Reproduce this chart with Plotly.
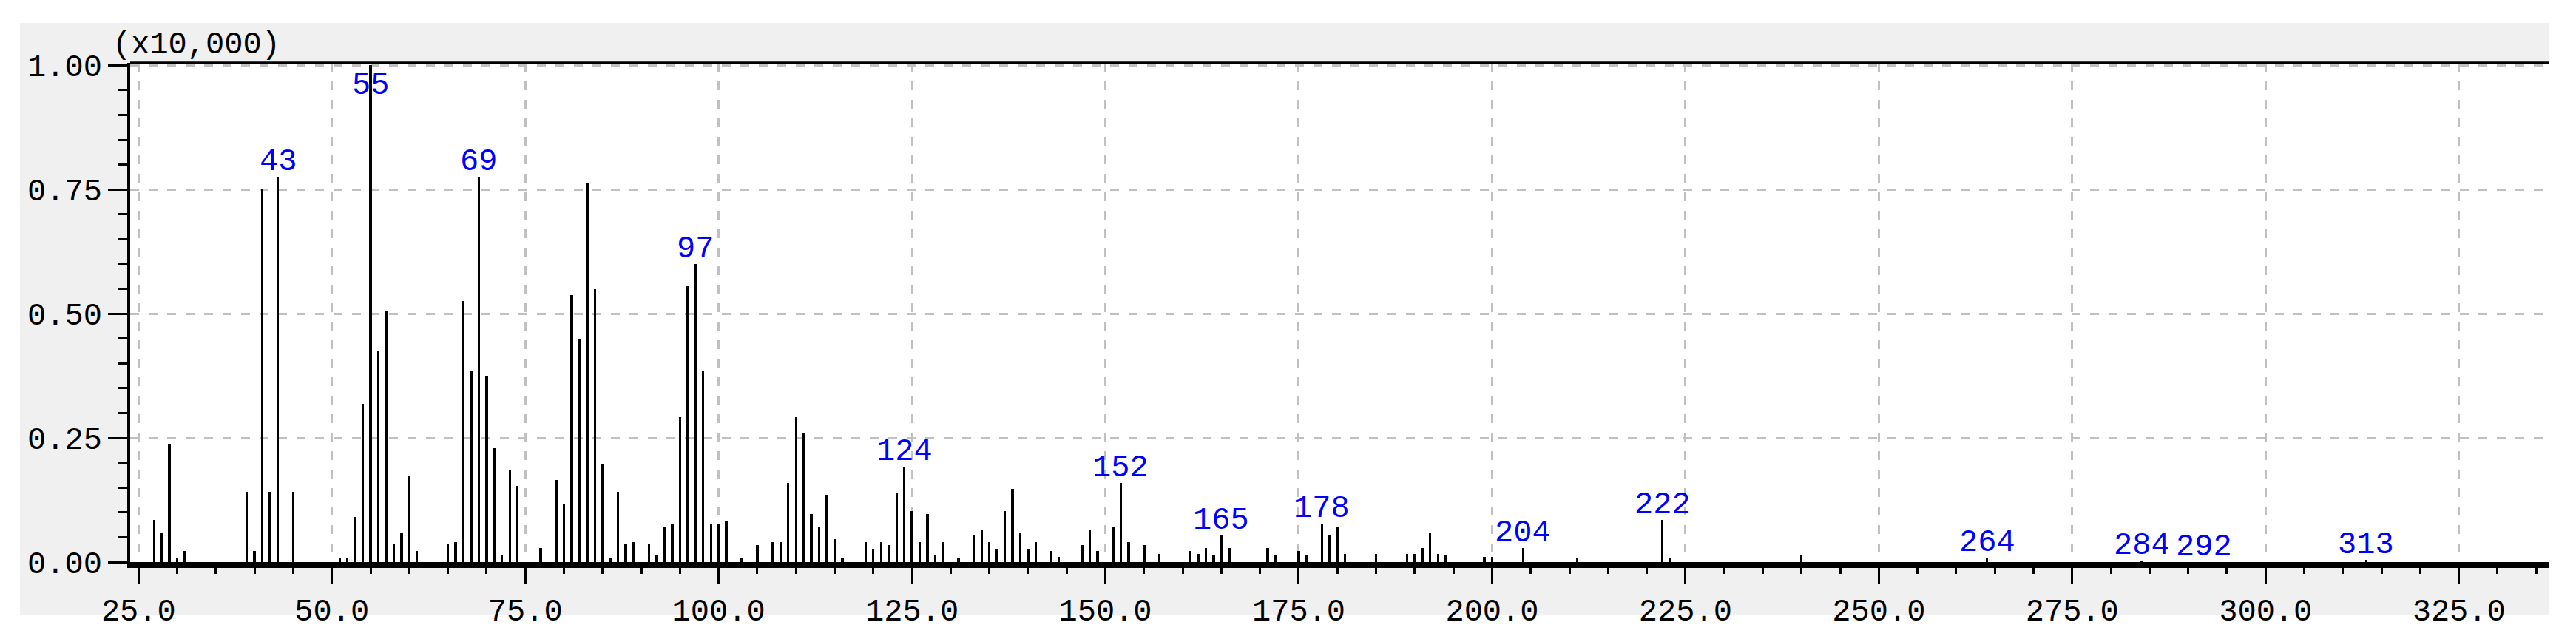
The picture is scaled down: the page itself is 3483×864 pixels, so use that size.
import plotly.graph_objects as go

# m/z values and relative intensities (x10,000)
mz = [27, 28, 29, 30, 31, 39, 40, 41, 42, 43, 45, 51, 52, 53, 54, 55, 56, 57, 58, 59,
      60, 61, 65, 66, 67, 68, 69, 70, 71, 72, 73, 74, 77, 79, 80, 81, 82, 83, 84, 85,
      86, 87, 88, 89, 91, 92, 93, 94, 95, 96, 97, 98, 99, 100, 101, 103, 105, 107, 108, 109,
      110, 111, 112, 113, 114, 115, 116, 119, 120, 121, 122, 123, 124, 125, 126, 127, 128, 129, 131, 133,
      134, 135, 136, 137, 138, 139, 140, 141, 143, 144, 147, 148, 149, 151, 152, 153, 155, 157, 161, 162,
      163, 164, 165, 166, 171, 172, 175, 176, 178, 179, 180, 181, 185, 189, 190, 191, 192, 193, 194, 199,
      200, 204, 211, 222, 223, 240, 264, 284, 292, 313]
intensity = [0.085, 0.059, 0.236, 0.009, 0.022, 0.141, 0.022, 0.750, 0.141, 0.776, 0.141, 0.009, 0.009, 0.091, 0.318, 1.000, 0.424, 0.506, 0.035, 0.059,
             0.173, 0.022, 0.035, 0.040, 0.525, 0.386, 0.776, 0.374, 0.230, 0.015, 0.186, 0.154, 0.028, 0.166, 0.117, 0.538, 0.449, 0.763, 0.550, 0.197,
             0.009, 0.141, 0.035, 0.040, 0.035, 0.015, 0.072, 0.078, 0.292, 0.556, 0.600, 0.386, 0.078, 0.078, 0.084, 0.009, 0.034, 0.040, 0.040, 0.159,
             0.292, 0.260, 0.097, 0.072, 0.135, 0.046, 0.009, 0.040, 0.027, 0.040, 0.034, 0.140, 0.192, 0.103, 0.040, 0.097, 0.015, 0.040, 0.009, 0.053,
             0.065, 0.040, 0.027, 0.103, 0.147, 0.059, 0.027, 0.040, 0.022, 0.011, 0.034, 0.065, 0.022, 0.072, 0.160, 0.040, 0.034, 0.017, 0.022, 0.017,
             0.028, 0.013, 0.053, 0.028, 0.028, 0.013, 0.022, 0.013, 0.078, 0.053, 0.072, 0.017, 0.017, 0.017, 0.017, 0.028, 0.059, 0.017, 0.013, 0.011,
             0.011, 0.028, 0.009, 0.085, 0.009, 0.015, 0.009, 0.003, 0.000, 0.004]

labeled_peaks = [43, 55, 69, 97, 124, 152, 165, 178, 204, 222, 264, 284, 292, 313]

x_ticks = [25, 50, 75, 100, 125, 150, 175, 200, 225, 250, 275, 300, 325]
y_ticks = [0.0, 0.25, 0.5, 0.75, 1.0]
scale_label = "(x10,000)"

FONT = "Liberation Mono"
FS = 42
W, H = 3483, 864
L, R, T, B = 176, 37, 85, 104
PW, PH = W - L - R, H - T - B


def px_x(p):
    return (p - L) / PW


def px_y(p):
    return (H - B - p) / PH


fig = go.Figure()
fig.add_trace(go.Bar(x=mz, y=intensity, width=0.32,
                     marker=dict(color="black", line=dict(width=0))))

lookup = dict(zip(mz, intensity))
for m in labeled_peaks:
    v = lookup[m]
    if v >= 0.95:
        fig.add_annotation(x=m, y=v, text=str(m), showarrow=False, yanchor="top",
                           yshift=-2, font=dict(family=FONT, size=FS, color="#0000ff"))
    else:
        fig.add_annotation(x=m, y=v, text=str(m), showarrow=False, yanchor="bottom",
                           yshift=-6, font=dict(family=FONT, size=FS, color="#0000ff"))

fig.add_annotation(xref="paper", yref="paper", x=px_x(150), y=px_y(61),
                   xanchor="left", yanchor="middle", text=scale_label, showarrow=False,
                   font=dict(family=FONT, size=FS, color="black"))

# grey panel and white plot area
fig.add_shape(type="rect", xref="paper", yref="paper", layer="below",
              x0=px_x(27), x1=px_x(3446), y0=px_y(832), y1=px_y(31),
              fillcolor="#f0f0f0", line=dict(width=0))
fig.add_shape(type="rect", xref="paper", yref="paper", layer="below",
              x0=0, x1=1, y0=0, y1=1, fillcolor="white", line=dict(width=0))
# top frame line
fig.add_shape(type="line", xref="paper", yref="paper", x0=0, x1=1, y0=1, y1=1,
              line=dict(color="black", width=3.5))

fig.update_layout(
    width=W, height=H, autosize=False,
    margin=dict(l=L, r=R, t=T, b=B, pad=0),
    paper_bgcolor="white", plot_bgcolor="white",
    showlegend=False, bargap=0,
    font=dict(family=FONT, size=FS, color="black"),
)
fig.update_xaxes(
    range=[23.92, 336.6], tickmode="array", tickvals=x_ticks,
    ticktext=[f"{v:.1f}" for v in x_ticks],
    showline=True, linecolor="black", linewidth=8,
    ticks="outside", ticklen=21, tickwidth=3, tickcolor="black",
    showgrid=True, gridcolor="#c0c0c0", gridwidth=3, griddash="12px,13px",
    zeroline=False,
    minor=dict(dtick=5, tick0=0, ticks="outside", ticklen=8, tickwidth=3, tickcolor="black", showgrid=False),
    tickfont=dict(family=FONT, size=FS, color="black"),
)
fig.update_yaxes(
    range=[0, 1.0049], tickmode="array", tickvals=y_ticks,
    ticktext=[f"{v:.2f}" for v in y_ticks],
    showline=True, linecolor="black", linewidth=3.5,
    ticks="outside", ticklen=26, tickwidth=3, tickcolor="black",
    showgrid=True, gridcolor="#c0c0c0", gridwidth=3, griddash="12px,13px",
    zeroline=False,
    minor=dict(dtick=0.05, tick0=0, ticks="outside", ticklen=13, tickwidth=3, tickcolor="black", showgrid=False),
    tickfont=dict(family=FONT, size=FS, color="black"),
)

fig.write_html(
    "out.html",
    config={"displayModeBar": False},
    post_script="document.body.style.margin='0';document.body.style.overflow='hidden';",
)
